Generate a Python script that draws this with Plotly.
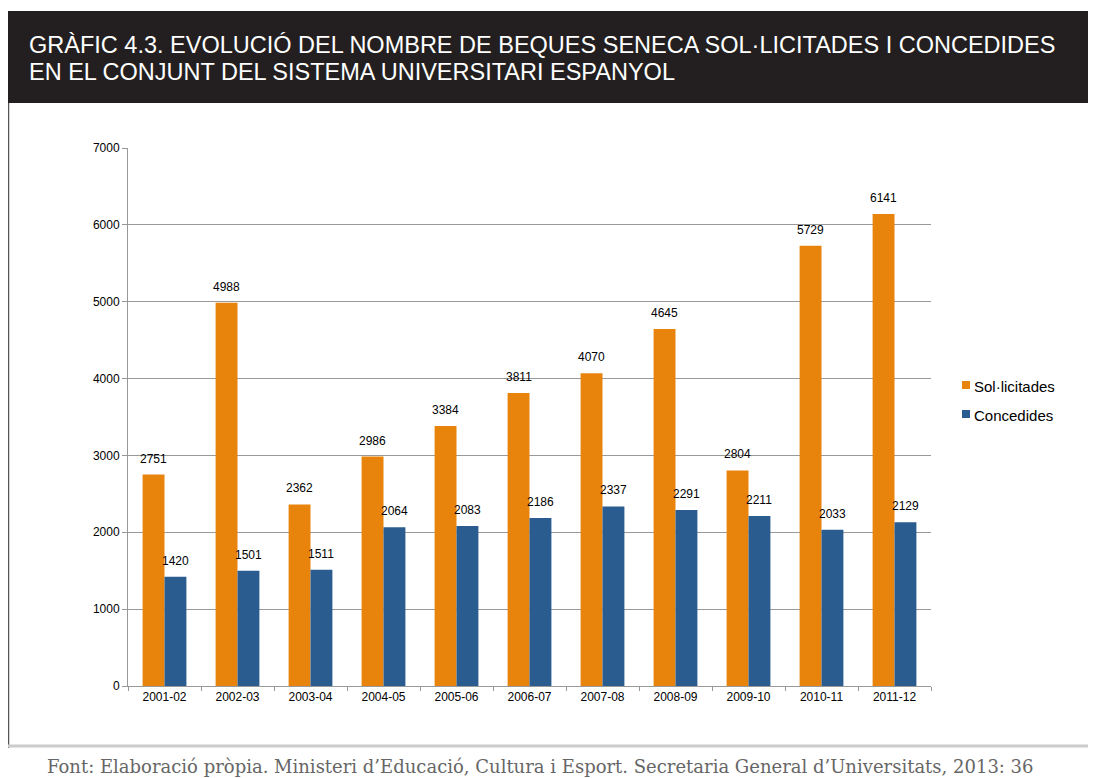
import plotly.graph_objects as go

categories = ["2001-02", "2002-03", "2003-04", "2004-05", "2005-06", "2006-07",
              "2007-08", "2008-09", "2009-10", "2010-11", "2011-12"]
sollicitades = [2751, 4988, 2362, 2986, 3384, 3811, 4070, 4645, 2804, 5729, 6141]
concedides = [1420, 1501, 1511, 2064, 2083, 2186, 2337, 2291, 2211, 2033, 2129]
y_ticks = [0, 1000, 2000, 3000, 4000, 5000, 6000, 7000]
series_names = ["Sol·licitades", "Concedides"]
series_colors = ["#E8830C", "#2A5C8F"]

title_line1 = "GRÀFIC 4.3. EVOLUCIÓ DEL NOMBRE DE BEQUES SENECA SOL·LICITADES I CONCEDIDES"
title_line2 = "EN EL CONJUNT DEL SISTEMA UNIVERSITARI ESPANYOL"
source = ("Font: Elaboració pròpia. Ministeri d’Educació, Cultura i Esport. "
          "Secretaria General d’Universitats, 2013: 36")

# page body margin offsets the figure by 8px
OFF = 8
W, H = 1096 - OFF, 778 - OFF
L, R, T, B = 128 - OFF, 931 - OFF, 148 - OFF, 686 - OFF


def px(x):
    return (x - OFF - L) / (R - L)


def py(y):
    return (B - (y - OFF)) / (B - T)


fig = go.Figure()
for name, vals, col in zip(series_names, [sollicitades, concedides], series_colors):
    fig.add_trace(go.Bar(
        x=categories, y=vals, name=name,
        marker=dict(color=col, line=dict(width=0)),
        showlegend=False,
    ))

BARGAP = 0.4
cat_w = (R - L) / len(categories)
bar_w = cat_w * (1 - BARGAP) / 2

annotations = []
for i, vals in enumerate([sollicitades, concedides]):
    shift = (i - 0.5) * bar_w
    for c, v in zip(categories, vals):
        annotations.append(dict(
            x=c, y=v, xref="x", yref="y", text=str(v), showarrow=False,
            xanchor="center", yanchor="bottom", xshift=shift, yshift=7,
            font=dict(family="Liberation Sans", size=12, color="#000000")))

shapes = [
    # header bar
    dict(type="rect", xref="paper", yref="paper", x0=px(8), x1=px(1110), y0=py(103), y1=py(11),
         fillcolor="#231F20", line=dict(width=0), layer="below"),
    # left vertical rule
    dict(type="line", xref="paper", yref="paper", x0=px(8.5), x1=px(8.5), y0=py(103), y1=py(748),
         line=dict(color="#555555", width=1.5)),
    # bottom horizontal rule
    dict(type="line", xref="paper", yref="paper", x0=px(8), x1=px(1110), y0=py(746), y1=py(746),
         line=dict(color="#CCCCCC", width=3)),
]

# legend (manual)
leg_y = [385, 414]
for name, col, yy in zip(series_names, series_colors, leg_y):
    shapes.append(dict(type="rect", xref="paper", yref="paper",
                       x0=px(962), x1=px(970), y0=py(yy + 4), y1=py(yy - 4),
                       fillcolor=col, line=dict(width=0)))
    annotations.append(dict(text=name, xref="paper", yref="paper", x=px(972), y=py(yy + 1),
                            xanchor="left", yanchor="middle", showarrow=False,
                            font=dict(family="Liberation Sans", size=15, color="#000000")))

annotations += [
    dict(text=title_line1, xref="paper", yref="paper", x=px(27), y=py(45), xanchor="left",
         yanchor="middle", showarrow=False,
         font=dict(family="Liberation Sans", size=23.5, color="#FFFFFF")),
    dict(text=title_line2, xref="paper", yref="paper", x=px(27), y=py(72), xanchor="left",
         yanchor="middle", showarrow=False,
         font=dict(family="Liberation Sans", size=23.5, color="#FFFFFF")),
    dict(text=source, xref="paper", yref="paper", x=px(45), y=py(766), xanchor="left",
         yanchor="middle", showarrow=False,
         font=dict(family="DejaVu Serif", size=18, color="#666666")),
]

fig.update_layout(
    width=W, height=H,
    margin=dict(l=L, r=W - R, t=T, b=H - B, pad=0),
    paper_bgcolor="#FFFFFF", plot_bgcolor="#FFFFFF",
    barmode="group", bargap=BARGAP, bargroupgap=0,
    font=dict(family="Liberation Sans", size=12, color="#000000"),
    showlegend=False,
    shapes=shapes, annotations=annotations,
    xaxis=dict(type="category", showline=True, linecolor="#999999", linewidth=1,
               ticks="outside", tickson="boundaries", ticklen=4, tickcolor="#999999",
               tickfont=dict(size=12), showgrid=False),
    yaxis=dict(range=[0, 7000], tickvals=y_ticks, showline=True, linecolor="#999999", linewidth=1,
               ticks="outside", ticklen=5, tickcolor="#999999",
               showgrid=True, gridcolor="#999999", gridwidth=1,
               tickfont=dict(size=12), zeroline=False),
)

fig.write_html("out.html")
